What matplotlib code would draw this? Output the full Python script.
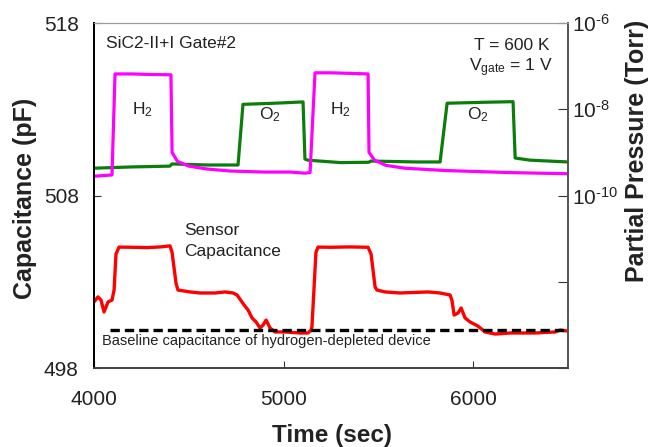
import matplotlib
matplotlib.use("Agg")
import matplotlib.pyplot as plt

plt.rcParams["font.family"] = ["Liberation Sans", "DejaVu Sans"]
plt.rcParams["mathtext.fontset"] = "custom"
plt.rcParams["mathtext.rm"] = "Liberation Sans"
plt.rcParams["mathtext.it"] = "Liberation Sans:italic"
plt.rcParams["mathtext.default"] = "regular"

# sensor capacitance (pF), left axis
cap_t = [4000, 4021, 4037, 4053, 4074, 4095, 4106, 4116, 4132, 4200, 4280, 4350, 4401, 4412,
         4433, 4443, 4507, 4559, 4639, 4691, 4734, 4755, 4792, 4813, 4834, 4855, 4876, 4892,
         4908, 4929, 4955, 5008, 5087, 5129, 5145, 5150, 5171, 5182, 5250, 5350, 5446, 5462,
         5483, 5493, 5536, 5615, 5763, 5826, 5879, 5889, 5900, 5921, 5937, 5958, 5984, 6026,
         6063, 6116, 6195, 6248, 6327, 6433, 6459, 6500]
cap_v = [501.83, 502.12, 501.94, 501.25, 501.83, 501.94, 502.52, 504.6, 505.01, 505.0, 504.98,
         505.02, 505.08, 504.7, 502.9, 502.52, 502.41, 502.35, 502.35, 502.41, 502.35, 502.23,
         501.65, 501.36, 500.90, 500.67, 500.32, 500.49, 500.78, 500.32, 500.09, 500.09,
         500.03, 500.03, 500.20, 500.4, 504.7, 505.01, 505.0, 505.02, 505.0, 504.6, 502.7,
         502.52, 502.41, 502.35, 502.41, 502.35, 502.23, 501.9, 501.07, 501.19, 501.48,
         500.90, 500.67, 500.43, 500.09, 499.97, 500.03, 500.03, 500.03, 500.09, 500.20,
         500.14]

# H2 partial pressure (Torr), right axis
h2_t = [4000, 4095, 4111, 4200, 4300, 4406, 4412, 4440, 4500, 4600, 4718, 4900, 5034, 5113,
        5140, 5166, 5250, 5350, 5446, 5451, 5480, 5540, 5640, 5852, 6195, 6500]
h2_p = [2.8e-10, 3.0e-10, 6.6e-8, 6.6e-8, 6.4e-8, 6.3e-8, 1.0e-9, 6.2e-10, 4.8e-10, 4.1e-10,
        3.7e-10, 3.5e-10, 3.5e-10, 3.3e-10, 3.4e-10, 7.0e-8, 7.0e-8, 6.8e-8, 6.6e-8, 1.0e-9,
        6.6e-10, 5.0e-10, 4.3e-10, 3.8e-10, 3.4e-10, 3.2e-10]

# O2 partial pressure (Torr), right axis
o2_t = [4000, 4200, 4400, 4412, 4600, 4760, 4786, 4950, 5103, 5113, 5129, 5300, 5450, 5460,
        5700, 5826, 5863, 6050, 6211, 6222, 6301, 6500]
o2_p = [4.3e-10, 4.6e-10, 4.8e-10, 5.4e-10, 5.1e-10, 5.1e-10, 1.3e-8, 1.38e-8, 1.48e-8,
        7.0e-10, 6.6e-10, 5.8e-10, 5.9e-10, 6.3e-10, 6.0e-10, 6.0e-10, 1.38e-8, 1.45e-8,
        1.5e-8, 7.4e-10, 6.6e-10, 6.0e-10]

baseline_t = [4084, 6500]
baseline_v = [500.2, 500.2]

x_ticks = [4000, 5000, 6000]
cap_ticks = [498, 508, 518]
p_ticks = [1e-6, 1e-8, 1e-10, 1e-12, 1e-14]
p_ticklabels = [r"$10^{\text{-6}}$", r"$10^{\text{-8}}$", r"$10^{\text{-10}}$", "", ""]

fig = plt.figure(figsize=(6.5, 4.47), dpi=100)
ax = fig.add_axes([0.1446, 0.1767, 0.729, 0.7718])
ax2 = ax.twinx()

ax.plot(cap_t, cap_v, color="#ff0000", lw=2.4, solid_joinstyle="round")
ax.plot(baseline_t, baseline_v, color="black", lw=2.4, dashes=(2.8, 1.5))
ax2.plot(o2_t, o2_p, color="#0b7d0b", lw=2.3)
ax2.plot(h2_t, h2_p, color="#ff00ff", lw=2.3)

ax.set_xlim(4000, 6500)
ax.set_ylim(498, 518)
ax2.set_yscale("log")
ax2.set_ylim(1e-14, 1e-6)

ax.set_xticks(x_ticks)
ax.set_yticks(cap_ticks)
ax2.set_yticks(p_ticks)
ax2.set_yticklabels(p_ticklabels)
ax2.minorticks_off()

ax.tick_params(axis="x", direction="in", length=5, pad=16, labelsize=15, colors="#333333")
ax.tick_params(axis="y", direction="in", length=5, pad=11, labelsize=15, colors="#333333")
ax2.tick_params(axis="y", direction="in", length=7, pad=3, labelsize=15, colors="#333333")
ax.tick_params(labelcolor="#222222")
ax2.tick_params(labelcolor="#222222")

for a in (ax, ax2):
    a.spines["left"].set_color("black")
    a.spines["left"].set_linewidth(1.3)
    a.spines["bottom"].set_color("#444444")
    a.spines["bottom"].set_linewidth(1.3)
    a.spines["top"].set_color("#999999")
    a.spines["top"].set_linewidth(0.8)
    a.spines["right"].set_color("#555555")
    a.spines["right"].set_linewidth(1.3)

fs = 12.5
ax.text(0.025, 0.942, "SiC2-II+I Gate#2", transform=ax.transAxes, fontsize=fs, color="#222222",
        ha="left", va="center")
ax.text(0.962, 0.936, "T = 600 K", transform=ax.transAxes, fontsize=fs, color="#222222",
        ha="right", va="center")
ax.text(0.968, 0.87, "V$_{gate}$ = 1 V", transform=ax.transAxes, fontsize=fs, color="#222222",
        ha="right", va="center")
ax.text(0.103, 0.748, "H$_2$", transform=ax.transAxes, fontsize=fs, color="#222222",
        ha="center", va="center")
ax.text(0.521, 0.748, "H$_2$", transform=ax.transAxes, fontsize=fs, color="#222222",
        ha="center", va="center")
ax.text(0.371, 0.733, "O$_2$", transform=ax.transAxes, fontsize=fs, color="#222222",
        ha="center", va="center")
ax.text(0.81, 0.733, "O$_2$", transform=ax.transAxes, fontsize=fs, color="#222222",
        ha="center", va="center")
ax.text(0.19, 0.368, "Sensor\nCapacitance", transform=ax.transAxes, fontsize=fs,
        color="#222222", ha="left", va="center", linespacing=1.45)
ax.text(0.017, 0.078, "Baseline capacitance of hydrogen-depleted device", transform=ax.transAxes,
        fontsize=10.5, color="#222222", ha="left", va="center")

fig.text(25 / 650, 1 - 198 / 447, "Capacitance (pF)", rotation=90, fontsize=18,
         fontweight="bold", color="#222222", ha="center", va="center")
fig.text(637 / 650, 1 - 151 / 447, "Partial Pressure (Torr)", rotation=90, fontsize=18,
         fontweight="bold", color="#222222", ha="center", va="center")
fig.text(332 / 650, 1 - 424 / 447, "Time (sec)", fontsize=17.5, fontweight="bold",
         color="#222222", ha="center", va="top")

fig.savefig("out.png", dpi=100)
